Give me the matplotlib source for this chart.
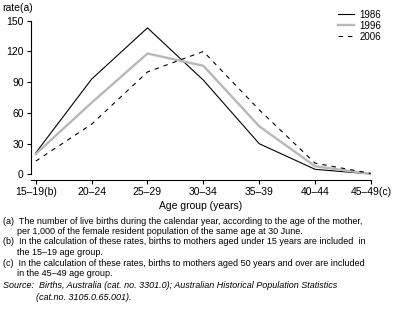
import matplotlib
matplotlib.use("Agg")
import matplotlib.pyplot as plt

categories = ["15–19(b)", "20–24", "25–29", "30–34", "35–39", "40–44", "45–49(c)"]
y1986 = [21, 93, 143, 92, 30, 5, 0.5]
y1996 = [20, 70, 118, 106, 47, 8, 0.5]
y2006 = [13, 49, 100, 120, 63, 11, 1]
yticks = [0, 30, 60, 90, 120, 150]

plt.rcParams['font.family'] = ['Liberation Sans', 'DejaVu Sans']
W, H = 397, 321
fig = plt.figure(figsize=(W/100, H/100), dpi=100)
ax = fig.add_axes([30.7/W, 1-180/H, (371-30.7)/W, (180-20.7)/H])
x = list(range(len(categories)))
ax.plot(x, y1986, color='black', lw=0.8, label='1986')
ax.plot(x, y1996, color='#b8b8b8', lw=1.7, label='1996')
ax.plot(x, y2006, color='black', lw=0.8, ls=(0, (4, 4.5)), label='2006')
ax.set_xlim(-0.09, 6)
ax.set_ylim(-5.4, 150)
ax.set_xticks(x)
ax.set_xticklabels(categories, fontsize=7.5)
ax.set_yticks(yticks)
ax.set_yticklabels([str(v) for v in yticks], fontsize=7.5)
for s in ['top', 'right']:
    ax.spines[s].set_visible(False)
ax.spines['left'].set_bounds(0, 150)
ax.spines['left'].set_linewidth(0.8)
ax.spines['bottom'].set_linewidth(0.8)
ax.tick_params(axis='both', length=3, width=0.8, pad=2)
ax.set_xlabel("Age group (years)", fontsize=7.5, labelpad=3)
fig.text(2/W, 1-8/H, "rate(a)", fontsize=7.5, va='center', ha='left')
leg = ax.legend(loc='upper right', bbox_to_anchor=(388/W, 1-3/H), bbox_transform=fig.transFigure,
                frameon=False, fontsize=7, handlelength=1.7, handletextpad=0.5, labelspacing=0.1,
                borderpad=0.2)

fs = 6.5
notes = [
    (3, 221, "(a)  The number of live births during the calendar year, according to the age of the mother,"),
    (17, 231.5, "per 1,000 of the female resident population of the same age at 30 June."),
    (3, 242, "(b)  In the calculation of these rates, births to mothers aged under 15 years are included  in"),
    (17, 252.5, "the 15–19 age group."),
    (3, 263, "(c)  In the calculation of these rates, births to mothers aged 50 years and over are included"),
    (17, 273.5, "in the 45–49 age group."),
]
for xx, yy, t in notes:
    fig.text(xx/W, 1-yy/H, t, fontsize=fs, va='center', ha='left')
fig.text(3/W, 1-286/H, "Source:  Births, Australia (cat. no. 3301.0); Australian Historical Population Statistics",
         fontsize=fs, va='center', ha='left', style='italic')
fig.text(36/W, 1-297/H, "(cat.no. 3105.0.65.001).", fontsize=fs, va='center', ha='left', style='italic')

fig.savefig("out.png", dpi=100)
